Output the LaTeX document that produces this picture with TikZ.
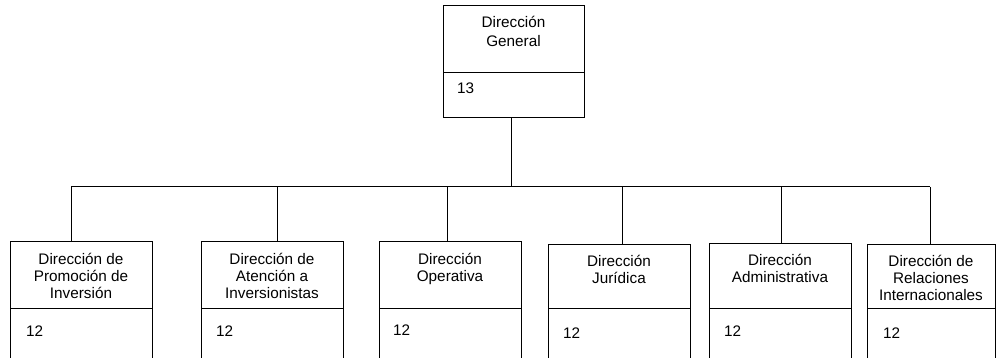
\documentclass[tikz,border=0pt]{standalone}
\usepackage{fontspec}
\setmainfont{Liberation Sans}
\usetikzlibrary{calc}
\tikzset{
  box/.style={draw=black, line width=1pt, rectangle, inner sep=0pt, outer sep=0pt, anchor=north west},
  lbl/.style={inner sep=0pt, anchor=base, font=\fontsize{15.3}{16.7}\selectfont},
  toplbl/.style={inner sep=0pt, anchor=base, font=\fontsize{15.3}{18.7}\selectfont},
  num/.style={inner sep=0pt, anchor=base west, font=\fontsize{15.3}{17}\selectfont},
  conn/.style={draw=black, line width=1pt}
}
\begin{document}
\begin{tikzpicture}[x=1pt, y=-1pt]
\useasboundingbox (0,0) rectangle (997,358);
\clip (0,0) rectangle (997,358);
% top box
\node[box, minimum width=141pt, minimum height=67pt] (g) at (443,6) {};
\node[box, minimum width=141pt, minimum height=45pt] (gn) at (g.south west) {};
\node[toplbl] (gt) at ($(g.north)+(0,22)$) {\begin{tabular}[t]{@{}c@{}}Dirección\\General\end{tabular}};
\node[num] (gv) at ($(gn.north west)+(14,21)$) {13};
% bottom boxes
\node[box, minimum width=142pt, minimum height=67pt] (b1) at (10,242) {};
\node[box, minimum width=142pt, minimum height=80pt] (b1n) at (b1.south west) {};
\node[box, minimum width=142pt, minimum height=67pt] (b2) at (201,242) {};
\node[box, minimum width=142pt, minimum height=80pt] (b2n) at (b2.south west) {};
\node[box, minimum width=142pt, minimum height=67pt] (b3) at (379,242) {};
\node[box, minimum width=142pt, minimum height=80pt] (b3n) at (b3.south west) {};
\node[box, minimum width=142pt, minimum height=64pt] (b4) at (548,245) {};
\node[box, minimum width=142pt, minimum height=80pt] (b4n) at (b4.south west) {};
\node[box, minimum width=142pt, minimum height=65pt] (b5) at (709,244) {};
\node[box, minimum width=142pt, minimum height=80pt] (b5n) at (b5.south west) {};
\node[box, minimum width=128pt, minimum height=64pt] (b6) at (867,245) {};
\node[box, minimum width=128pt, minimum height=80pt] (b6n) at (b6.south west) {};
% titles
\node[lbl] (t1) at ($(b1.north)+(0,23)$) {\begin{tabular}[t]{@{}c@{}}Dirección de\\Promoción de\\Inversión\end{tabular}};
\node[lbl] (t2) at ($(b2.north)+(0,23)$) {\begin{tabular}[t]{@{}c@{}}Dirección de\\Atención a\\Inversionistas\end{tabular}};
\node[lbl] (t3) at ($(b3.north)+(0,23)$) {\begin{tabular}[t]{@{}c@{}}Dirección\\Operativa\end{tabular}};
\node[lbl] (t4) at ($(b4.north)+(0,22)$) {\begin{tabular}[t]{@{}c@{}}Dirección\\Jurídica\end{tabular}};
\node[lbl] (t5) at ($(b5.north)+(0,22)$) {\begin{tabular}[t]{@{}c@{}}Dirección\\Administrativa\end{tabular}};
\node[lbl] (t6) at ($(b6.north)+(0,22)$) {\begin{tabular}[t]{@{}c@{}}Dirección de\\Relaciones\\Internacionales\end{tabular}};
% numbers
\node[num] (v1) at ($(b1n.north west)+(16,28)$) {12};
\node[num] (v2) at ($(b2n.north west)+(15,28)$) {12};
\node[num] (v3) at ($(b3n.north west)+(14,27)$) {12};
\node[num] (v4) at ($(b4n.north west)+(15,29)$) {12};
\node[num] (v5) at ($(b5n.north west)+(15,28)$) {12};
\node[num] (v6) at ($(b6n.north west)+(16,29)$) {12};
% connectors
\coordinate (j) at (511,187);
\coordinate (c1) at (71,187);
\coordinate (c2) at (277,187);
\coordinate (c3) at (447,187);
\coordinate (c4) at (622,187);
\coordinate (c5) at (781,187);
\coordinate (c6) at (930,187);
\draw[conn] (j |- gn.south) -- (j);
\draw[conn] (c1) -- (c6);
\draw[conn] (c1) -- (c1 |- b1.north);
\draw[conn] (c2) -- (c2 |- b2.north);
\draw[conn] (c3) -- (c3 |- b3.north);
\draw[conn] (c4) -- (c4 |- b4.north);
\draw[conn] (c5) -- (c5 |- b5.north);
\draw[conn] (c6) -- (c6 |- b6.north);
\end{tikzpicture}
\end{document}
